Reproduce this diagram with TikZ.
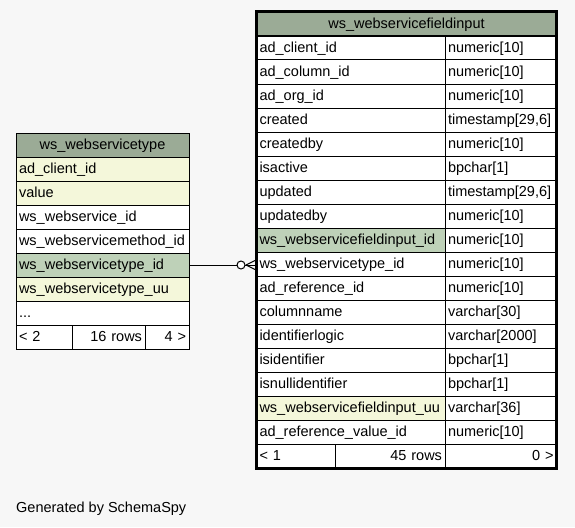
\documentclass[tikz,border=0pt]{standalone}
\usepackage{fontspec}
\setmainfont{Liberation Sans}
\definecolor{pagebg}{HTML}{F7F7F7}
\definecolor{headbg}{HTML}{9BAB96}
\definecolor{keybg}{HTML}{BED1B8}
\definecolor{idxbg}{HTML}{F4F7DA}
\tikzset{
  cell/.style={draw=black, line width=1pt, anchor=north west, inner xsep=3pt, inner ysep=0pt,
    outer sep=0pt, minimum height=24pt, text height=12.5pt, text depth=3pt, align=left,
    font=\fontsize{14.5}{16}\selectfont},
  headcell/.style={cell, fill=headbg, align=center},
  footcell/.style={cell, fill=white},
}
\begin{document}
\begin{tikzpicture}[x=1pt, y=-1pt]
  \fill[pagebg] (0,0) rectangle (575,527);
  \useasboundingbox (0,0) rectangle (575,527);
  % ws_webservicetype
  \node[headcell, text width=167pt] (lh) at (16,133) {ws\_webservicetype};
  \foreach \t/\c [count=\i] in {ad\_client\_id/idxbg, value/idxbg, ws\_webservice\_id/white,
      ws\_webservicemethod\_id/white, ws\_webservicetype\_id/keybg, ws\_webservicetype\_uu/idxbg} {
    \node[cell, fill=\c, text width=167pt] (lt\i) at (16,133+24*\i) {\t};
  }
  \node[cell, fill=white, text width=167pt] (lt7) at (16,301) {...};
  \node[footcell, text width=50pt] (lf1) at (16,325) {< 2};
  \node[footcell, text width=67pt, align=right] (lf2) at (72,325) {16 rows};
  \node[footcell, text width=38pt, align=right] (lf3) at (145,325) {4 >};
  % ws_webservicefieldinput
  \node[headcell, text width=294pt] (rh) at (256.5,12) {ws\_webservicefieldinput};
  \foreach \t/\y/\c [count=\i] in {ad\_client\_id/numeric[10]/white, ad\_column\_id/numeric[10]/white,
      ad\_org\_id/numeric[10]/white, created/{timestamp[29,6]}/white, createdby/numeric[10]/white,
      isactive/bpchar[1]/white, updated/{timestamp[29,6]}/white, updatedby/numeric[10]/white,
      ws\_webservicefieldinput\_id/numeric[10]/keybg, ws\_webservicetype\_id/numeric[10]/white,
      ad\_reference\_id/numeric[10]/white, columnname/varchar[30]/white,
      identifierlogic/varchar[2000]/white, isidentifier/bpchar[1]/white,
      isnullidentifier/bpchar[1]/white, ws\_webservicefieldinput\_uu/varchar[36]/idxbg,
      ad\_reference\_value\_id/numeric[10]/white} {
    \node[cell, fill=\c, text width=182.5pt] (rt\i) at (256.5,12+24*\i) {\t};
    \node[cell, fill=white, text width=105.5pt] (ry\i) at (445,12+24*\i) {\y};
  }
  \node[footcell, text width=72.5pt] (rf1) at (256.5,444) {< 1};
  \node[footcell, text width=104pt, align=right] (rf2) at (335,444) {45 rows};
  \node[footcell, text width=105.5pt, align=right] (rf3) at (445,444) {0 >};
  \draw[line width=2pt] (rh.south west) -- (rh.south east);
  \draw[line width=3pt] (rh.north west) rectangle (rf3.south east);
  % relationship
  \coordinate (cf) at (lt5.east -| rt10.west);
  \draw[line width=1pt] (lt5.east) -- (cf);
  \draw[line width=1pt] ([xshift=-10.5pt]cf) -- ++(9,-4.5);
  \draw[line width=1pt] ([xshift=-10.5pt]cf) -- ++(9,4.5);
  \draw[line width=1pt, fill=white] ([xshift=-15.5pt]cf) circle (4);
  \node[anchor=base west, inner sep=0pt, font=\fontsize{14.5}{16}\selectfont] (gen) at (16,512) {Generated by SchemaSpy};
\end{tikzpicture}
\end{document}
